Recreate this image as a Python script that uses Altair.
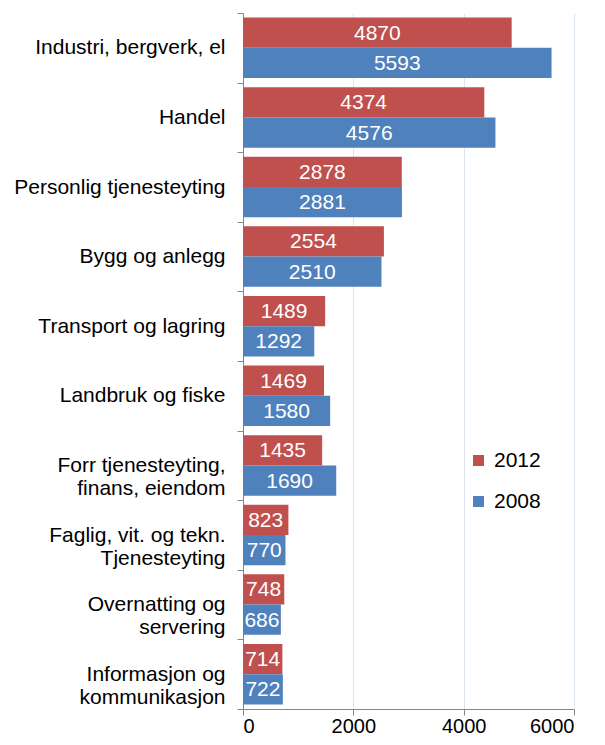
import altair as alt
import pandas as pd

categories = [
    "Industri, bergverk, el",
    "Handel",
    "Personlig tjenesteyting",
    "Bygg og anlegg",
    "Transport og lagring",
    "Landbruk og fiske",
    "Forr tjenesteyting,\nfinans, eiendom",
    "Faglig, vit. og tekn.\nTjenesteyting",
    "Overnatting og\nservering",
    "Informasjon og\nkommunikasjon",
]
years = ["2012", "2008"]
values_2012 = [4870, 4374, 2878, 2554, 1489, 1469, 1435, 823, 748, 714]
values_2008 = [5593, 4576, 2881, 2510, 1292, 1580, 1690, 770, 686, 722]
x_ticks = [0, 2000, 4000, 6000]
colors = ["#C0504D", "#4F81BD"]

# trailing non-breaking spaces so that two-line labels appear centred
NB = "\u00a0"
line_pad = {
    "Forr tjenesteyting,\nfinans, eiendom": [0, 2],
    "Faglig, vit. og tekn.\nTjenesteyting": [0, 4],
    "Overnatting og\nservering": [0, 4],
    "Informasjon og\nkommunikasjon": [1, 0],
}


def display(cat):
    lines = cat.split("\n")
    pads = line_pad.get(cat, [0] * len(lines))
    return "\n".join(l + NB * p for l, p in zip(lines, pads))


labels = [display(c) for c in categories]

rows = []
for lab, a, b in zip(labels, values_2012, values_2008):
    rows.append({"label": lab, "year": "2012", "value": a})
    rows.append({"label": lab, "year": "2008", "value": b})
df = pd.DataFrame(rows)

FONT = "Liberation Sans"
GREY = "#868686"

y_enc = alt.Y(
    "label:N",
    sort=labels,
    scale=alt.Scale(paddingInner=0, paddingOuter=0),
    axis=alt.Axis(
        title=None,
        labelExpr="split(datum.label, '\\n')",
        labelLimit=400,
        labelFontSize=21,
        labelFont=FONT,
        labelColor="#000000",
        labelPadding=12,
        labelLineHeight=23,
        tickSize=6,
        tickBand="extent",
        tickColor=GREY,
        domainColor=GREY,
        grid=False,
    ),
)
yoff_enc = alt.YOffset(
    "year:N", sort=years, scale=alt.Scale(paddingInner=0, paddingOuter=0.15)
)

base = alt.Chart(df)

bars = base.mark_bar().encode(
    y=y_enc,
    yOffset=yoff_enc,
    x=alt.X(
        "value:Q",
        scale=alt.Scale(domain=[0, 6000], nice=False),
        axis=alt.Axis(
            title=None,
            values=x_ticks,
            labelFontSize=20,
            labelFont=FONT,
            labelColor="#000000",
            labelPadding=1,
            tickSize=6,
            tickColor=GREY,
            domainColor=GREY,
            grid=True,
            gridColor="#DCE4F0",
            format="d",
        ),
    ),
    color=alt.Color(
        "year:N",
        scale=alt.Scale(domain=years, range=colors),
        legend=alt.Legend(
            title=None,
            orient="none",
            legendX=225,
            legendY=437,
            symbolType="square",
            symbolSize=121,
            symbolStrokeWidth=0,
            labelFontSize=21,
            labelFont=FONT,
            labelColor="#000000",
            labelOffset=5,
            rowPadding=19,
        ),
    ),
)

texts = base.transform_calculate(mid="datum.value / 2").mark_text(
    color="white", fontSize=21, font=FONT, align="center", baseline="middle", dy=1
).encode(
    y=alt.Y("label:N", sort=labels),
    yOffset=alt.YOffset("year:N", sort=years),
    x=alt.X("mid:Q"),
    text=alt.Text("value:Q", format="d"),
)

chart = (
    alt.layer(bars, texts)
    .properties(
        width=331,
        height=696,
        padding={"left": 235, "top": 5, "right": 23, "bottom": 28},
        autosize=alt.AutoSizeParams(type="none"),
    )
    .configure(font=FONT)
    .configure_view(stroke=None)
)

chart.save("out.html", embed_options={"renderer": "svg", "actions": False})
